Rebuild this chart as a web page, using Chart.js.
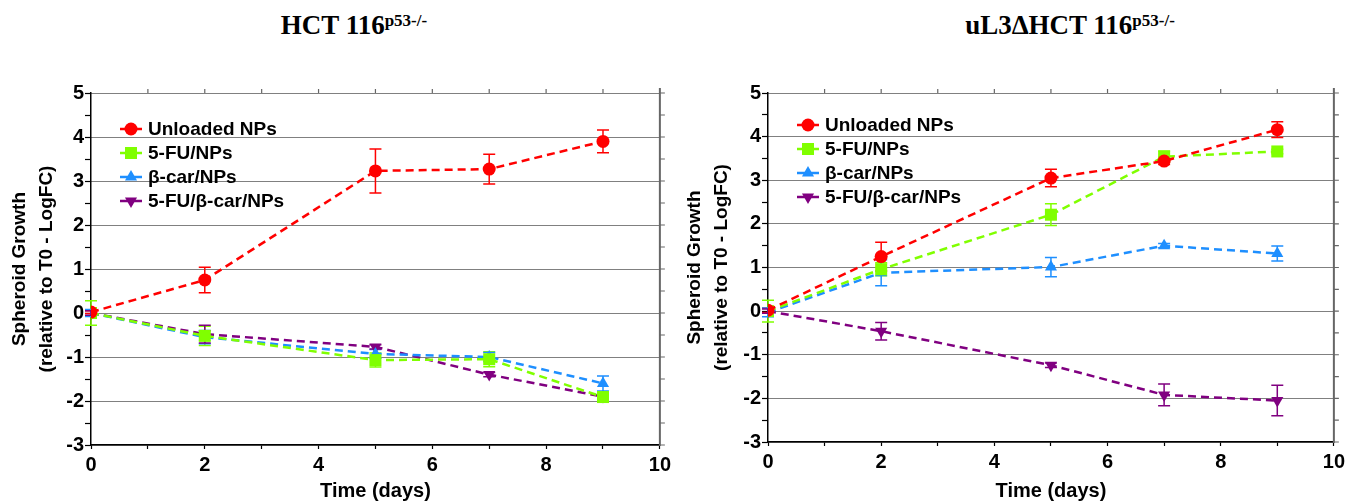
<!DOCTYPE html>
<html>
<head>
<meta charset="utf-8">
<script src="https://cdn.jsdelivr.net/npm/chart.js@4/dist/chart.umd.min.js"></script>
<style>
  body { margin: 0; background: #fff; width: 1349px; height: 503px; overflow: hidden; position: relative; }
  .title { position: absolute; top: 10px; font-family: "Liberation Serif", "Times New Roman", serif; font-weight: bold; font-size: 27px; line-height: 30px; white-space: nowrap; transform: translateX(-50%); }
  .title sup { font-size: 17px; vertical-align: 8px; line-height: 0; }
  canvas { position: absolute; top: 80px; }
</style>
</head>
<body>
<div class="title" style="left:354px">HCT 116<sup>p53-/-</sup></div>
<div class="title" style="left:1070px">uL3ΔHCT 116<sup>p53-/-</sup></div>
<canvas id="left" width="675" height="423" style="left:0"></canvas>
<canvas id="right" width="674" height="423" style="left:675px"></canvas>
<script>
// données
const days = [0, 2, 5, 7, 9];
const seriesNames = ['Unloaded NPs', '5-FU/NPs', 'β-car/NPs', '5-FU/β-car/NPs'];

// HCT 116 p53-/-
const hctUnloaded = [0.02, 0.75, 3.23, 3.27, 3.9];
const hctUnloadedErr = [0.03, 0.29, 0.5, 0.34, 0.26];
const hctFU = [0, -0.52, -1.07, -1.05, -1.91];
const hctFUErr = [0.28, 0.22, 0.16, 0.17, 0.05];
const hctCar = [0, -0.55, -0.93, -1.0, -1.6];
const hctCarErr = [0.08, 0.15, 0.1, 0.1, 0.17];
const hctCombo = [0, -0.48, -0.77, -1.4, -1.9];
const hctComboErr = [0.05, 0.2, 0.05, 0.05, 0.05];

// uL3ΔHCT 116 p53-/-
const ul3Unloaded = [0.02, 1.25, 3.05, 3.44, 4.16];
const ul3UnloadedErr = [0.05, 0.33, 0.2, 0.08, 0.18];
const ul3FU = [0, 0.96, 2.21, 3.54, 3.66];
const ul3FUErr = [0.25, 0.15, 0.25, 0.13, 0.05];
const ul3Car = [-0.03, 0.88, 1.01, 1.5, 1.32];
const ul3CarErr = [0.1, 0.3, 0.22, 0.05, 0.17];
const ul3Combo = [0, -0.46, -1.24, -1.92, -2.05];
const ul3ComboErr = [0.05, 0.2, 0.05, 0.25, 0.35];

const colors = ['#ff0000', '#80ff00', '#1e8fff', '#800080'];
const pointStyles = ['circle', 'rect', 'triangle', 'triangle'];
const pointRotations = [0, 0, 0, 180];
const pointRadii = [6.5, 8.5, 7, 7];
const FONT = '"Liberation Sans", Arial, sans-serif';

function makeDatasets(values, errors) {
  return values.map((vals, i) => ({
    label: seriesNames[i],
    data: vals.map((v, j) => ({ x: days[j], y: v })),
    err: errors[i],
    borderColor: colors[i],
    backgroundColor: colors[i],
    borderWidth: 2.5,
    borderDash: [8, 5],
    pointStyle: pointStyles[i],
    rotation: pointRotations[i],
    pointRadius: pointRadii[i],
    pointBorderWidth: 0,
    tension: 0
  }));
}

// barres d'erreur
const errorBars = {
  id: 'errorBars',
  beforeDatasetsDraw(chart) {
    const { ctx, scales: { x, y } } = chart;
    chart.data.datasets.forEach(ds => {
      ctx.save();
      ctx.strokeStyle = ds.borderColor;
      ctx.lineWidth = 1.5;
      ds.data.forEach((p, j) => {
        const e = ds.err[j];
        if (!e) return;
        const px = x.getPixelForValue(p.x);
        const y1 = y.getPixelForValue(p.y + e);
        const y2 = y.getPixelForValue(p.y - e);
        ctx.beginPath();
        ctx.moveTo(px, y1); ctx.lineTo(px, y2);
        ctx.moveTo(px - 6, y1); ctx.lineTo(px + 6, y1);
        ctx.moveTo(px - 6, y2); ctx.lineTo(px + 6, y2);
        ctx.stroke();
      });
      ctx.restore();
    });
  }
};

// cadre droit + graduations du haut
const frame = {
  id: 'frame',
  beforeDatasetsDraw(chart) {
    const { ctx, chartArea: a, scales: { x, y } } = chart;
    ctx.save();
    ctx.strokeStyle = '#666';
    ctx.lineWidth = 2;
    ctx.beginPath();
    ctx.moveTo(a.right, a.top - 5); ctx.lineTo(a.right, a.bottom + 1);
    ctx.stroke();
    ctx.lineWidth = 1.2;
    ctx.beginPath();
    for (let v = -3; v <= 5; v += 0.5) {
      const py = y.getPixelForValue(v);
      ctx.moveTo(a.right, py); ctx.lineTo(a.right + 5, py);
    }
    for (let v = 1; v < 10; v++) {
      const px = x.getPixelForValue(v);
      ctx.moveTo(px, a.top); ctx.lineTo(px, a.top - 4);
    }
    ctx.stroke();
    ctx.restore();
  }
};

// légende dans la zone du graphique
const legendBox = {
  id: 'legendBox',
  afterDraw(chart, args, opts) {
    const { ctx, chartArea: a } = chart;
    ctx.save();
    ctx.font = 'bold 19px ' + FONT;
    ctx.textBaseline = 'middle';
    chart.data.datasets.forEach((ds, i) => {
      const mx = a.left + opts.markerX;
      const my = a.top + opts.top + i * opts.step;
      ctx.strokeStyle = ds.borderColor;
      ctx.fillStyle = ds.borderColor;
      ctx.lineWidth = 2.5;
      ctx.beginPath();
      ctx.moveTo(mx - 11, my); ctx.lineTo(mx + 11, my);
      ctx.stroke();
      Chart.helpers.drawPoint(ctx, { pointStyle: ds.pointStyle, radius: ds.pointRadius, rotation: ds.rotation, borderWidth: 0 }, mx, my);
      ctx.fillStyle = '#000';
      ctx.fillText(ds.label, a.left + opts.textX, my + 1);
    });
    ctx.restore();
  }
};

function makeChart(id, values, errors, yWidth, xHeight, rightPad, legendTop) {
  new Chart(document.getElementById(id), {
    type: 'line',
    data: { datasets: makeDatasets(values, errors) },
    plugins: [frame, errorBars, legendBox],
    options: {
      responsive: false,
      animation: false,
      layout: { padding: { top: 11, right: rightPad, left: 0, bottom: 0 } },
      plugins: {
        legend: { display: false },
        tooltip: { enabled: false },
        legendBox: { markerX: 40, textX: 57, top: legendTop, step: 24 }
      },
      scales: {
        x: {
          type: 'linear', min: 0, max: 10,
          afterFit: s => { s.height = xHeight; },
          ticks: {
            stepSize: 1, autoSkip: false, maxRotation: 0, padding: 4, color: '#000',
            font: { family: FONT, size: 20, weight: 'bold' },
            callback: v => v % 2 === 0 ? v : ''
          },
          grid: { drawOnChartArea: false, tickLength: 4, tickColor: '#000', tickWidth: 1.2 },
          border: { color: '#000', width: 1.5 },
          title: { display: true, text: 'Time (days)', color: '#000', padding: 0,
            font: { family: FONT, size: 20, weight: 'bold' } }
        },
        y: {
          min: -3, max: 5,
          afterFit: s => { s.width = yWidth; },
          ticks: {
            stepSize: 0.5, autoSkip: false, padding: 1, color: '#000',
            font: { family: FONT, size: 20, weight: 'bold' },
            callback: v => Number.isInteger(v) ? v : ''
          },
          grid: {
            color: c => Number.isInteger(c.tick.value) ? '#000' : 'rgba(0,0,0,0)',
            tickColor: '#000', tickLength: 6, tickWidth: 1.2, lineWidth: 1
          },
          border: { color: '#000', width: 1.5, dash: [1, 1] },
          title: { display: true, text: ['Spheroid Growth', '(relative to T0 - LogFC)'], color: '#000',
            padding: { top: 6, bottom: 0 },
            font: { family: FONT, size: 19, weight: 'bold', lineHeight: 1.42 } }
        }
      }
    }
  });
}

makeChart('left',
  [hctUnloaded, hctFU, hctCar, hctCombo],
  [hctUnloadedErr, hctFUErr, hctCarErr, hctComboErr],
  91, 58, 12, 36);

makeChart('right',
  [ul3Unloaded, ul3FU, ul3Car, ul3Combo],
  [ul3UnloadedErr, ul3FUErr, ul3CarErr, ul3ComboErr],
  93, 61, 13, 32);
</script>
</body>
</html>
